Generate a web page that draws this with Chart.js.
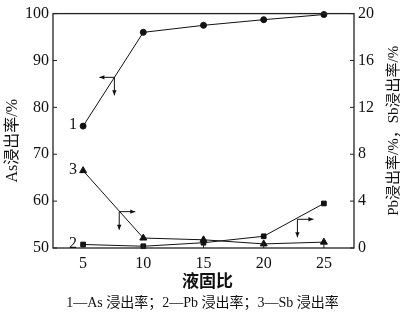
<!DOCTYPE html>
<html><head><meta charset="utf-8">
<script src="https://cdn.jsdelivr.net/npm/chart.js@4"></script>
<style>html,body{margin:0;padding:0;background:#fff}#wrap{width:400px;height:316px;position:relative}</style>
</head><body><div id="wrap"><canvas id="c"></canvas></div>
<script>
const ratios=[5,10,15,20,25];
const asRate=[76,96,97.5,98.7,99.8];
const pbRate=[0.3,0.15,0.45,1.0,3.8];
const sbRate=[6.6,0.85,0.7,0.35,0.5];
const leftTicks=[50,60,70,80,90,100];
const rightTicks=[0,4,8,12,16,20];
const xTicks=[5,10,15,20,25];
const xTitle='液固比';
const leftTitle='As浸出率/%';
const rightTitle='Pb浸出率/%，Sb浸出率/%';
const caption='1—As 浸出率；2—Pb 浸出率；3—Sb 浸出率';
const seriesLabels=['1','2','3'];
// arrow annotations: anchor in data coords, axis id, horizontal direction
const arrows=[
  {x:7.6, axis:'y', onSeries:asRate, dir:-1},
  {x:8.0, axis:'y1', y:3.1, dir:1},
  {x:22.8, axis:'y1', y:2.45, dir:1}
];
const SERIF='"Liberation Serif","Noto Sans CJK SC",serif';
const INK='#111';

function pts(ys){return ratios.map((x,i)=>({x:x,y:ys[i]}));}
function interp(series,x){
  for(let i=0;i<ratios.length-1;i++){
    if(x>=ratios[i]&&x<=ratios[i+1]){const t=(x-ratios[i])/(ratios[i+1]-ratios[i]);return series[i]+t*(series[i+1]-series[i]);}
  }
  return series[0];
}
function fixTicks(list){return s=>{s.ticks=list.map(v=>({value:v}));};}

const deco={
  id:'deco',
  afterDraw(chart){
    const ctx=chart.ctx, a=chart.chartArea, sx=chart.scales.x, sy=chart.scales.y, sy1=chart.scales.y1;
    ctx.save();
    // frame
    ctx.strokeStyle='#222'; ctx.lineWidth=1.3;
    ctx.strokeRect(a.left,a.top,a.right-a.left,a.bottom-a.top);
    // inward ticks
    ctx.lineWidth=1;
    ctx.beginPath();
    leftTicks.forEach(v=>{const p=sy.getPixelForValue(v);ctx.moveTo(a.left,p);ctx.lineTo(a.left+4,p);});
    rightTicks.forEach(v=>{const p=sy1.getPixelForValue(v);ctx.moveTo(a.right,p);ctx.lineTo(a.right-4,p);});
    xTicks.forEach(v=>{const p=sx.getPixelForValue(v);ctx.moveTo(p,a.bottom);ctx.lineTo(p,a.bottom-4);});
    ctx.stroke();
    // titles
    ctx.fillStyle=INK; ctx.textAlign='center'; ctx.textBaseline='middle';
    ctx.font='bold 17px '+SERIF;
    ctx.fillText(xTitle,(a.left+a.right)/2+4,283);
    ctx.font='14px '+SERIF;
    ctx.fillText(caption,(a.left+a.right)/2-1,303);
    ctx.font='16px '+SERIF;
    ctx.save(); ctx.translate(13,(a.top+a.bottom)/2+10); ctx.rotate(-Math.PI/2); ctx.fillText(leftTitle,0,0); ctx.restore();
    ctx.font='15px '+SERIF;
    ctx.save(); ctx.translate(394,(a.top+a.bottom)/2); ctx.rotate(-Math.PI/2); ctx.fillText(rightTitle,0,0); ctx.restore();
    // series number labels near first point
    ctx.font='16px '+SERIF; ctx.textAlign='right';
    const firsts=[[asRate[0],sy],[pbRate[0],sy1],[sbRate[0],sy1]];
    firsts.forEach((f,i)=>{
      const px=sx.getPixelForValue(ratios[0])-6, py=f[1].getPixelForValue(f[0]);
      ctx.fillText(seriesLabels[i],px,py-1);
    });
    // arrows
    ctx.strokeStyle=INK; ctx.fillStyle=INK; ctx.lineWidth=1;
    function head(x,y,dx,dy){
      ctx.beginPath();
      if(dx!==0){ctx.moveTo(x,y);ctx.lineTo(x-dx*5,y-2.2);ctx.lineTo(x-dx*5,y+2.2);}
      else{ctx.moveTo(x,y);ctx.lineTo(x-2.2,y-dy*5);ctx.lineTo(x+2.2,y-dy*5);}
      ctx.closePath();ctx.fill();
    }
    arrows.forEach(ar=>{
      const sc=chart.scales[ar.axis];
      const yv=ar.onSeries?interp(ar.onSeries,ar.x):ar.y;
      const ox=sx.getPixelForValue(ar.x), oy=sc.getPixelForValue(yv);
      const hl=ar.dir<0?15:16, vl=18;
      ctx.beginPath();ctx.moveTo(ox,oy);ctx.lineTo(ox+ar.dir*hl,oy);ctx.moveTo(ox,oy);ctx.lineTo(ox,oy+vl);ctx.stroke();
      head(ox+ar.dir*hl,oy,ar.dir,0);
      head(ox,oy+vl,0,1);
    });
    ctx.restore();
  }
};

const common={borderColor:INK,backgroundColor:INK,borderWidth:1,showLine:true,tension:0,clip:false,pointBorderWidth:1,pointBorderColor:INK,pointBackgroundColor:INK};
new Chart(document.getElementById('c'),{
  type:'scatter',
  data:{datasets:[
    Object.assign({label:'As',data:pts(asRate),yAxisID:'y',pointStyle:'circle',pointRadius:3},common),
    Object.assign({label:'Pb',data:pts(pbRate),yAxisID:'y1',pointStyle:'rect',pointRadius:3.3},common),
    Object.assign({label:'Sb',data:pts(sbRate),yAxisID:'y1',pointStyle:'triangle',pointRadius:4},common)
  ]},
  options:{
    responsive:true,maintainAspectRatio:false,animation:false,devicePixelRatio:1,
    layout:{padding:{top:5,left:0,right:0,bottom:0}},
    plugins:{legend:{display:false},tooltip:{enabled:false}},
    scales:{
      x:{type:'linear',min:2.5,max:27.5,afterBuildTicks:fixTicks(xTicks),afterFit:s=>{s.height=68;},
         grid:{display:false,drawTicks:false},border:{display:false},
         ticks:{font:{family:SERIF,size:16},color:INK,padding:6,maxRotation:0}},
      y:{position:'left',min:50,max:100,afterBuildTicks:fixTicks(leftTicks),afterFit:s=>{s.width=53;},
         grid:{display:false,drawTicks:false},border:{display:false},
         ticks:{font:{family:SERIF,size:16},color:INK,padding:4}},
      y1:{position:'right',min:0,max:20,afterBuildTicks:fixTicks(rightTicks),afterFit:s=>{s.width=46;},
         grid:{display:false,drawTicks:false},border:{display:false},
         ticks:{font:{family:SERIF,size:16},color:INK,padding:4}}
    }
  },
  plugins:[deco]
});
</script></body></html>
